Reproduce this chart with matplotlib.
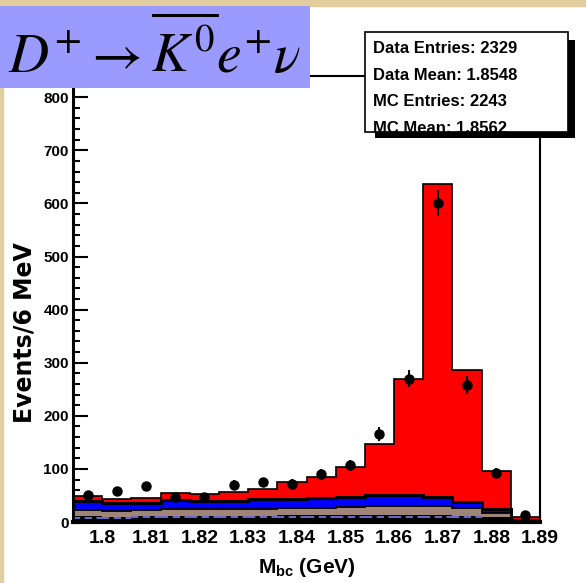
import numpy as np
import matplotlib.pyplot as plt
from matplotlib.patches import Rectangle
from matplotlib.ticker import MultipleLocator

plt.rcParams['font.family'] = ['Liberation Sans', 'DejaVu Sans']
plt.rcParams['mathtext.fontset'] = 'custom'
plt.rcParams['mathtext.rm'] = 'Liberation Sans:bold'
plt.rcParams['mathtext.bf'] = 'Liberation Sans:bold'

# 6 MeV bins of M_bc
edges = np.round(np.linspace(1.794, 1.890, 17), 3)
centers = 0.5 * (edges[:-1] + edges[1:])

data = np.array([50, 58, 68, 47, 47, 70, 75, 72, 91, 107, 166, 270, 600, 258, 93, 13])

# MC stack: level reached by each component (bottom to top)
mc_black = np.array([12, 10, 11, 12, 12, 12, 12, 13, 14, 14, 14, 14, 14, 12, 9, 3])
mc_brown = np.array([23, 20, 22, 25, 24, 24, 25, 26, 26, 28, 30, 30, 30, 27, 17, 3])
mc_blue = np.array([40, 36, 36, 41, 39, 40, 43, 44, 45, 48, 50, 51, 48, 38, 24, 3])
mc_total = np.array([49, 44, 45, 54, 53, 57, 63, 75, 85, 103, 146, 270, 636, 287, 96, 9])

# thin background shapes drawn as dashed levels
lavender_line = np.array([8, 8, 10, 10, 10, 10, 10, 10, 10, 10, 9, 9, 9, 9, 0, 0])
green_line = np.array([0, 0, 2, 2, 0, 0, 2, 2, 2, 2, 2, 0, 0, 0, 0, 0])

stats = ["Data Entries: 2329", "Data Mean: 1.8548",
         "MC Entries: 2243", "MC Mean: 1.8562"]

W, H = 586, 583
fig = plt.figure(figsize=(W / 100, H / 100), dpi=100)
fig.patch.set_facecolor('white')

# parchment edge of the slide
fig.patches.append(Rectangle((0, 1 - 6 / H), 1, 6 / H, transform=fig.transFigure,
                             color='#e2cd9e', zorder=-1))
fig.patches.append(Rectangle((0, 0), 3 / W, 1, transform=fig.transFigure,
                             color='#e2cd9e', zorder=-1))

ax = fig.add_axes([73 / W, 1 - 522 / H, (540 - 73) / W, (522 - 76) / H])
ax.set_axisbelow(True)

ax.stairs(mc_total, edges, fill=True, facecolor='#ff0000', edgecolor='black', linewidth=1.2)
ax.stairs(mc_blue, edges, fill=True, facecolor='#0000ff', edgecolor='black', linewidth=2.2)
ax.stairs(mc_brown, edges, fill=True, facecolor='#a08478', edgecolor='black', linewidth=1.3)
ax.stairs(mc_black, edges, fill=True, facecolor='black', edgecolor='none')

sel = lavender_line > 0
ax.hlines(lavender_line[sel], edges[:-1][sel], edges[1:][sel], colors='#7474e0',
          linestyles=(0, (4, 2.5)), linewidth=1.3)
sel = green_line > 0
ax.hlines(green_line[sel], edges[:-1][sel], edges[1:][sel], colors='#22c022',
          linestyles=(0, (4, 2.5)), linewidth=1.1)

ax.errorbar(centers, data, yerr=np.sqrt(data), fmt='o', color='black',
            markersize=6.5, elinewidth=1.5, capsize=0, zorder=5)

ax.set_xlim(1.794, 1.890)
ax.set_ylim(0, 840)

ax.yaxis.set_major_locator(MultipleLocator(100))
ax.yaxis.set_minor_locator(MultipleLocator(20))
ax.set_xticks(np.round(np.arange(1.80, 1.8901, 0.01), 2))
ax.set_xticklabels(['1.8', '1.81', '1.82', '1.83', '1.84', '1.85', '1.86',
                    '1.87', '1.88', '1.89'])
ax.tick_params(axis='y', which='major', direction='in', length=11, width=1.5,
               labelsize=11, pad=3)
ax.tick_params(axis='y', which='minor', direction='in', length=5, width=1.5)
ax.tick_params(axis='x', which='major', direction='in', length=8, width=1.5,
               labelsize=14, pad=6)
for lab in ax.get_xticklabels() + ax.get_yticklabels():
    lab.set_fontweight('bold')

ax.spines['left'].set_linewidth(2.2)
ax.spines['bottom'].set_linewidth(3)
ax.spines['right'].set_linewidth(1.5)
ax.spines['top'].set_linewidth(1.5)

ax.set_ylabel('Events/6 MeV', fontsize=17, fontweight='bold', family='DejaVu Sans')
ax.yaxis.set_label_coords(-0.078, 0.424)
ax.set_xlabel(r'$\mathbf{M_{bc}}$ (GeV)', fontsize=15, fontweight='bold', labelpad=6)

# decay-mode banner
fig.patches.append(Rectangle((0, 1 - 88 / H), 310 / W, 82 / H, transform=fig.transFigure,
                             facecolor='#9b9bff', edgecolor='none', zorder=2))
fig.text(154 / W, 1 - 52 / H, r'$D^{+}\rightarrow\overline{K^{0}}e^{+}\nu$',
         fontsize=40, math_fontfamily='stix', ha='center', va='center', zorder=3)

# statistics box with drop shadow
fig.patches.append(Rectangle((375 / W, 1 - 138 / H), 200 / W, 98 / H,
                             transform=fig.transFigure, facecolor='black',
                             edgecolor='none', zorder=2))
fig.patches.append(Rectangle((365 / W, 1 - 132 / H), 203 / W, 100 / H,
                             transform=fig.transFigure, facecolor='white',
                             edgecolor='black', linewidth=1.2, zorder=3))
for i, s in enumerate(stats):
    fig.text(373 / W, 1 - (48.5 + 26.5 * i) / H, s, fontsize=12, fontweight='bold',
             ha='left', va='center', zorder=4)
fig.patches.append(Rectangle((375 / W, 1 - 138 / H), 200 / W, 6 / H,
                             transform=fig.transFigure, facecolor='black',
                             edgecolor='none', zorder=5))

fig.savefig('out.png', dpi=100)
